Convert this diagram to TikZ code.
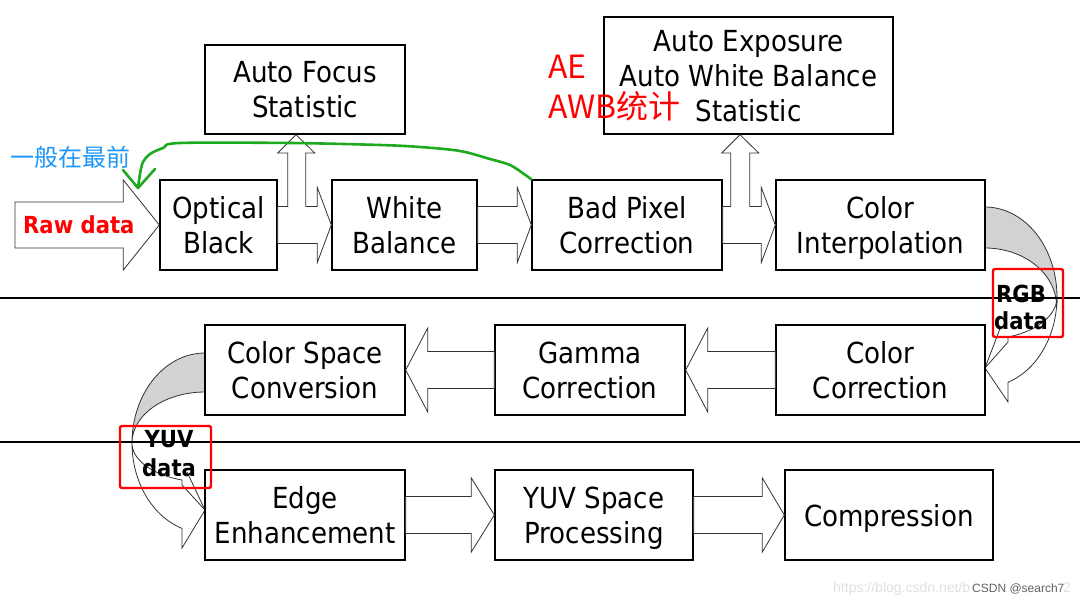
\documentclass[tikz,border=0pt]{standalone}
\usepackage{fontspec}
\setmainfont{DejaVu Sans}
\newfontfamily\boxfont{DejaVu Sans}[FakeStretch=0.9]
\newfontfamily\cjkfont{Noto Sans CJK SC}
\newfontfamily\wmfont{Liberation Sans}
\usetikzlibrary{calc}
\definecolor{cnblue}{RGB}{30,150,250}
\definecolor{pengreen}{RGB}{30,170,30}
\definecolor{backgray}{RGB}{210,210,210}
\newcommand\arR[5]{\draw[blockarrow] ($(#1.east)+(0,-#4)$) -- ($(#2.west)+(-#3,-#4)$) -- ($(#2.west)+(-#3,-#5)$) -- (#2.west) -- ($(#2.west)+(-#3,#5)$) -- ($(#2.west)+(-#3,#4)$) -- ($(#1.east)+(0,#4)$) -- cycle;}
\newcommand\arL[5]{\draw[blockarrow] ($(#1.west)+(0,-#4)$) -- ($(#2.east)+(#3,-#4)$) -- ($(#2.east)+(#3,-#5)$) -- (#2.east) -- ($(#2.east)+(#3,#5)$) -- ($(#2.east)+(#3,#4)$) -- ($(#1.west)+(0,#4)$) -- cycle;}
\begin{document}
\begin{tikzpicture}[x=1pt,y=-1pt,
  box/.style={draw=black, line width=1.4pt, fill=white, inner sep=0pt, align=center,
    font=\boxfont\fontsize{29}{35}\selectfont, text depth=0pt},
  blockarrow/.style={draw=black!80, line width=0.8pt, fill=white, line join=miter},
  curvearrow/.style={draw=black!80, line width=0.8pt, fill=white},
  thinline/.style={draw=black!80, line width=0.8pt},
  separator/.style={draw=black, line width=1.4pt},
  redframe/.style={draw=red, line width=2.4pt, rounded corners=2pt},
  greenline/.style={draw=pengreen, line width=2.6pt, line cap=round, line join=round},
  smalllabel/.style={font=\boxfont\bfseries\fontsize{23.5}{28}\selectfont, anchor=base, inner sep=0pt}]
\fill[white] (0,0) rectangle (1080,602);
\useasboundingbox (0,0) rectangle (1080,602);

% curved arrows (behind boxes)
\draw[curvearrow, fill=backgray] (985,207) -- plot[domain=90:-6, samples=40] ({985+72*cos(\x)},{297-90*sin(\x)}) -- plot[domain=0:90, samples=40] ({985+71.6*cos(\x)},{306.4-58.4*sin(\x)}) -- cycle;
\draw[curvearrow] plot[domain=0:-71.4, samples=40] ({985+72*cos(\x)},{297-90*sin(\x)}) -- (1008,402) -- (985,368) -- (1008,342) -- (1008,337) -- plot[domain=-71.4:0, samples=40] ({985+72*cos(\x)},{297-42.2*sin(\x)}) -- cycle;
\draw[thinline] (985,368) -- (1001,326);

\draw[curvearrow, fill=backgray] (205,353) -- plot[domain=90:0, samples=40] ({205-73*cos(\x)},{443-90*sin(\x)}) -- plot[domain=0:90, samples=40] ({205-73*cos(\x)},{443-51*sin(\x)}) -- cycle;
\draw[curvearrow] plot[domain=0:-71.6, samples=40] ({205-73*cos(\x)},{443-90*sin(\x)}) -- (182,548) -- (205,510) -- (182,485) -- (182,480) -- plot[domain=-71.6:0, samples=40] ({205-73*cos(\x)},{443-39*sin(\x)}) -- cycle;
\draw[thinline] (205,510) -- (187,472);

% boxes
\node[box, minimum width=200pt, minimum height=89pt] (af) at (305,89.5) {Auto Focus\\Statistic};
\node[box, minimum width=289pt, minimum height=117pt] (ae) at (748.5,75.5) {Auto Exposure\\Auto White Balance\\Statistic};
\node[box, minimum width=117pt, minimum height=90pt] (ob) at (218.5,225) {Optical\\Black};
\node[box, minimum width=145pt, minimum height=90pt] (wb) at (404.5,225) {White\\Balance};
\node[box, minimum width=190pt, minimum height=90pt] (bp) at (627,225) {Bad Pixel\\Correction};
\node[box, minimum width=209pt, minimum height=90pt] (ci) at (880.5,225) {Color\\Interpolation};
\node[box, minimum width=200pt, minimum height=90pt] (csc) at (305,370) {Color Space\\Conversion};
\node[box, minimum width=190pt, minimum height=90pt] (gc) at (590,370) {Gamma\\Correction};
\node[box, minimum width=209pt, minimum height=90pt] (cc) at (880.5,370) {Color\\Correction};
\node[box, minimum width=200pt, minimum height=90pt] (ee) at (305,515) {Edge\\Enhancement};
\node[box, minimum width=198pt, minimum height=90pt] (yuv) at (594,515) {YUV Space\\Processing};
\node[box, minimum width=208pt, minimum height=90pt] (comp) at (889,515) {Compression};

% block arrows
\coordinate (rawin) at (15,225);
\draw[blockarrow] ($(rawin)+(0,-23)$) -- ($(ob.west)+(-36,-23)$) -- ($(ob.west)+(-36,-45)$) -- (ob.west) -- ($(ob.west)+(-36,45)$) -- ($(ob.west)+(-36,23)$) -- ($(rawin)+(0,23)$) -- cycle;

\draw[blockarrow] ($(ob.east)+(0,-18.5)$) -- ($(ob.east)+(10,-18.5)$) -- ($(ob.east)+(10,-72)$) -- ($(ob.east)+(0,-72)$) -- ($(af.south)+(-9,0)$) -- ($(ob.east)+(37,-72)$) -- ($(ob.east)+(28,-72)$) -- ($(ob.east)+(28,-18.5)$) -- ($(wb.west)+(-14,-18.5)$) -- ($(wb.west)+(-14,-37.5)$) -- (wb.west) -- ($(wb.west)+(-14,37.5)$) -- ($(wb.west)+(-14,18.5)$) -- ($(ob.east)+(0,18.5)$) -- cycle;

\arR{wb}{bp}{14}{18.5}{37.5}

\draw[blockarrow] ($(bp.east)+(0,-18.5)$) -- ($(bp.east)+(8,-18.5)$) -- ($(bp.east)+(8,-72)$) -- ($(bp.east)+(-1,-72)$) -- ($(ae.south)+(-8.5,0)$) -- ($(bp.east)+(36,-72)$) -- ($(bp.east)+(27,-72)$) -- ($(bp.east)+(27,-18.5)$) -- ($(ci.west)+(-14,-18.5)$) -- ($(ci.west)+(-14,-37.5)$) -- (ci.west) -- ($(ci.west)+(-14,37.5)$) -- ($(ci.west)+(-14,18.5)$) -- ($(bp.east)+(0,18.5)$) -- cycle;

\arL{cc}{gc}{22}{18.5}{42}
\arL{gc}{csc}{22}{18.5}{42}
\arR{ee}{yuv}{23}{18.5}{37}
\arR{yuv}{comp}{22}{18.5}{37}

% separators
\draw[separator] (0,298) -- (1080,298);
\draw[separator] (0,442) -- (1080,442);

% labels
\node[font=\boxfont\bfseries\fontsize{23.5}{28}\selectfont, text=red, anchor=base west, inner sep=0pt] (raw) at (23,233) {Raw data};
\node[smalllabel] (rgb1) at (1021,302) {RGB};
\node[smalllabel] (rgb2) at (1021,329) {data};
\node[smalllabel] (yuv1) at (169,447) {YUV};
\node[smalllabel] (yuv2) at (169,476) {data};
\draw[redframe] (993,269) rectangle (1063,337);
\draw[redframe] (120,426) rectangle (211,488);

\node[font=\cjkfont\fontsize{24}{28}\selectfont, text=cnblue, anchor=base west, inner sep=0pt] (first) at (10,166) {一般在最前};
\node[font=\cjkfont\fontsize{32}{36}\selectfont, text=red, anchor=base west, inner sep=0pt] (ae1) at (548,78) {AE};
\node[font=\cjkfont\fontsize{32}{36}\selectfont, text=red, anchor=base west, inner sep=0pt] (ae2) at (548,118) {AWB统计};

% green hand-drawn arrow
\coordinate (gtip) at (138,188);
\draw[greenline] plot[smooth, tension=0.55] coordinates {(bp.north west) (524,174) (510,165) (490,159) (460,151) (420,147) (380,145) (290,143) (180,143) (163,148) (150,154) (143,162) (140,174) (gtip)};
\draw[greenline] (123,170) -- (gtip) -- (155,169);

% watermark
\node[font=\wmfont\fontsize{14}{16}\selectfont, text=black!12, anchor=base west, inner sep=0pt] (wm1) at (833,592) {https://blog.csdn.net/b};
\node[font=\wmfont\fontsize{14}{16}\selectfont, text=black!12, anchor=base west, inner sep=0pt] (wm2) at (1063,592) {2};
\node[font=\wmfont\fontsize{12}{14}\selectfont, text=black!62, anchor=base west, inner sep=0pt] (wm3) at (972,592) {CSDN @search7};
\end{tikzpicture}
\end{document}
